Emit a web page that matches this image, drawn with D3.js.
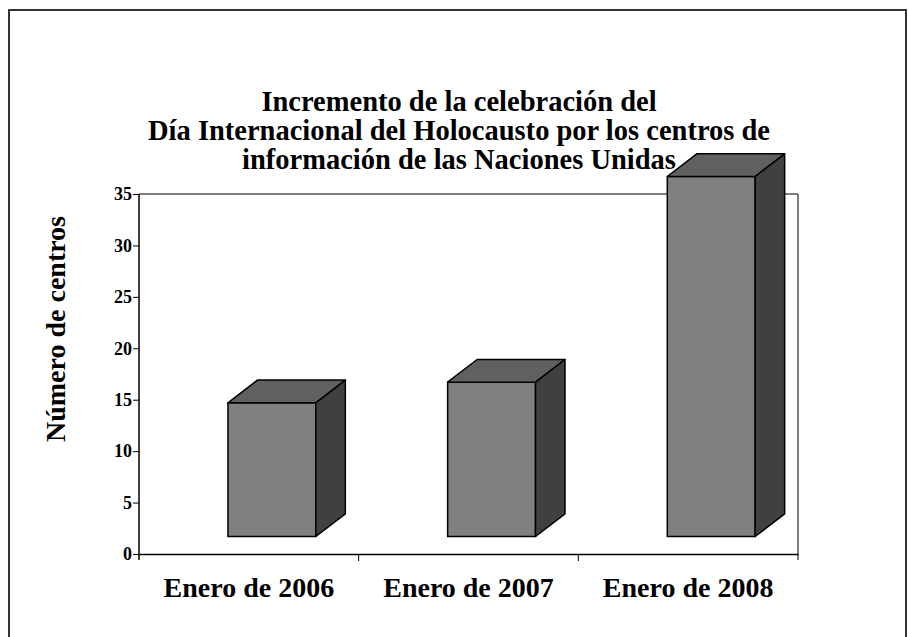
<!DOCTYPE html>
<html>
<head>
<meta charset="utf-8">
<script src="https://cdn.jsdelivr.net/npm/d3@7"></script>
<style>
  body { margin: 0; background: #fff; }
  svg text { font-family: "Liberation Serif", "Times New Roman", serif; font-weight: bold; fill: #000; }
</style>
</head>
<body>
<svg id="chart" width="908" height="637"></svg>
<script>
var categories = ["Enero de 2006", "Enero de 2007", "Enero de 2008"];
var values = [13, 15, 35];
var yTicks = [0, 5, 10, 15, 20, 25, 30, 35];
var titleLines = ["Incremento de la celebración del",
                  "Día Internacional del Holocausto por los centros de",
                  "información de las Naciones Unidas"];
var yTitle = "Número de centros";

var svgWidth = 908, svgHeight = 637;
var plotLeft = 139, plotRight = 798, plotTop = 194, plotBottom = 554;
var depthX = 29.5, depthY = 22.7, lift = 17.5;

var svg = d3.select("#chart");

// outer border
svg.append("path")
    .attr("d", "M9," + svgHeight + " V10 H906 V" + svgHeight)
    .attr("fill", "none")
    .attr("stroke", "#333")
    .attr("stroke-width", 2);

var x = d3.scaleBand().domain(categories).range([plotLeft, plotRight]);
var y = d3.scaleLinear().domain([0, 35]).range([plotBottom, plotTop]);

// frame (top + right)
svg.append("path")
    .attr("d", "M" + plotLeft + "," + plotTop + " H" + plotRight + " V" + (plotBottom + 6))
    .attr("fill", "none")
    .attr("stroke", "#000")
    .attr("stroke-width", 1);

// y axis
var yAxis = svg.append("g")
    .attr("transform", "translate(" + plotLeft + ",0)")
    .call(d3.axisLeft(y).tickValues(yTicks).tickSize(6).tickPadding(1).tickSizeOuter(0));
yAxis.select(".domain").attr("stroke", "#000").attr("stroke-width", 1.5)
    .attr("d", "M0," + (plotBottom + 6) + "V" + plotTop);
yAxis.selectAll("text").attr("font-size", 18).style("font-family", "'Liberation Serif', serif").style("font-weight", "bold");

// x axis
var xAxis = svg.append("g")
    .attr("transform", "translate(0," + plotBottom + ")")
    .call(d3.axisBottom(x).tickSize(0).tickSizeOuter(0).tickPadding(23));
xAxis.select(".domain").attr("stroke", "#000").attr("stroke-width", 1.5);
xAxis.selectAll("text").attr("font-size", 28).style("font-family", "'Liberation Serif', serif").style("font-weight", "bold");
// tick marks between categories
svg.selectAll(".sep").data(categories.slice(1)).enter().append("line")
    .attr("x1", d => x(d)).attr("x2", d => x(d))
    .attr("y1", plotBottom).attr("y2", plotBottom + 7)
    .attr("stroke", "#000");

// 3D bars
var bw = x.bandwidth() * 0.4;
var bars = svg.selectAll(".bar").data(categories.map((c, i) => ({c: c, v: values[i]})))
  .enter().append("g").attr("class", "bar");

function fx(d) { return x(d.c) + x.bandwidth() * 0.405; }
var fBottom = y(0) - lift;
function fTop(d) { return fBottom - (y(0) - y(d.v)); }

bars.append("rect")
    .attr("x", fx).attr("y", fTop)
    .attr("width", bw).attr("height", d => fBottom - fTop(d))
    .attr("fill", "#808080").attr("stroke", "#000").attr("stroke-width", 1.5);

bars.append("path")
    .attr("d", d => {
      var l = fx(d), r = l + bw, t = fTop(d);
      return "M" + l + "," + t + " L" + (l + depthX) + "," + (t - depthY) +
             " L" + (r + depthX) + "," + (t - depthY) + " L" + r + "," + t + "Z";
    })
    .attr("fill", "#606060").attr("stroke", "#000").attr("stroke-width", 1.5).attr("stroke-linejoin", "round");

bars.append("path")
    .attr("d", d => {
      var r = fx(d) + bw, t = fTop(d);
      return "M" + r + "," + t + " L" + (r + depthX) + "," + (t - depthY) +
             " L" + (r + depthX) + "," + (fBottom - depthY) + " L" + r + "," + fBottom + "Z";
    })
    .attr("fill", "#404040").attr("stroke", "#000").attr("stroke-width", 1.5).attr("stroke-linejoin", "round");

// title
svg.append("g").selectAll("text").data(titleLines).enter().append("text")
    .attr("x", 459).attr("y", (d, i) => 111 + i * 29)
    .attr("text-anchor", "middle")
    .attr("font-size", 28.5)
    .text(d => d);

// y title
svg.append("text")
    .attr("transform", "translate(65,329) rotate(-90)")
    .attr("text-anchor", "middle")
    .attr("font-size", 28)
    .text(yTitle);
</script>
</body>
</html>
